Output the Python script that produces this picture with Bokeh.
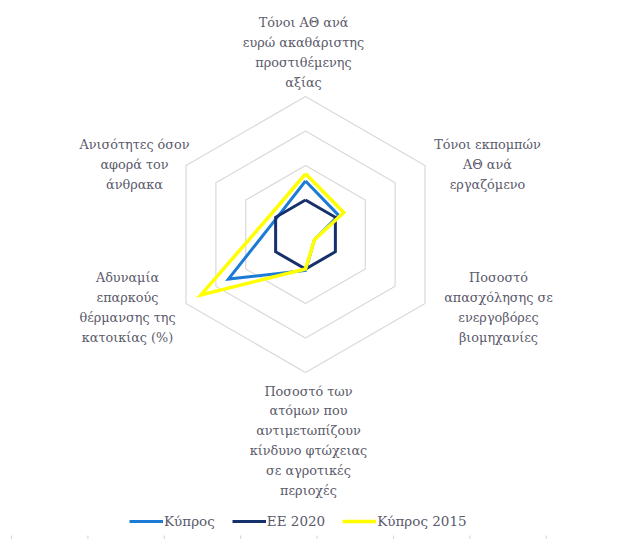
import numpy as np
from bokeh.plotting import figure
from bokeh.models import Range1d
from bokeh.core.properties import value
from bokeh.embed import file_html
from bokeh.resources import INLINE

# ---- data ----
categories = [
    "Τόνοι ΑΘ ανά\nευρώ ακαθάριστης\nπροστιθέμενης\nαξίας",
    "Τόνοι εκπομπών\nΑΘ ανά\nεργαζόμενο",
    "Ποσοστό\nαπασχόλησης σε\nενεργοβόρες\nβιομηχανίες",
    "Ποσοστό των\nατόμων που\nαντιμετωπίζουν\nκίνδυνο φτώχειας\nσε αγροτικές\nπεριοχές",
    "Αδυναμία\nεπαρκούς\nθέρμανσης της\nκατοικίας (%)",
    "Ανισότητες όσον\nαφορά τον\nάνθρακα",
]
cyprus = [1.55, 1.11, 0.30, 1.04, 2.58, 0.96]
eu2020 = [1.0, 1.0, 1.0, 1.0, 1.0, 1.0]
cyprus2015 = [1.76, 1.28, 0.30, 1.00, 3.50, 1.16]
series_names = ["Κύπρος", "ΕΕ 2020", "Κύπρος 2015"]
grid_levels = [1, 2, 3, 4]

# ---- layout ----
W, H = 605, 539
U = 34.5              # pixels per unit
cx, cy = 305, 234     # centre in canvas px (from top-left)
p = figure(width=W, height=H, output_backend="svg", toolbar_location=None,
           x_range=Range1d(-cx / U, (W - cx) / U),
           y_range=Range1d(-(H - cy) / U, cy / U),
           min_border=0)
p.axis.visible = False
p.grid.visible = False
p.outline_line_color = None
p.background_fill_color = "white"

n = len(categories)
ang = np.pi / 2 - np.arange(n) * 2 * np.pi / n
ca = np.append(np.cos(ang), np.cos(ang[0]))
sa = np.append(np.sin(ang), np.sin(ang[0]))

for g in grid_levels:
    p.line(g * ca, g * sa, line_color="#D9D9D9", line_width=1.2)

colors = ["#1C7CD5", "#15306A", "#FFFF00"]
widths = [3, 3, 3.5]
for vals, name, col, w in zip([cyprus, eu2020, cyprus2015], series_names, colors, widths):
    v = np.append(vals, vals[0])
    p.line(v * ca, v * sa, line_color=col, line_width=w, line_join="miter",
           legend_label=name)

FONT = "DejaVu Serif"

# category labels (centres in px relative to chart centre)
label_off_px = [(-2, 182), (182, 70), (193, -73), (3, -206), (-178, -73), (-171, 70)]
lx = [dx / U for dx, dy in label_off_px]
ly = [dy / U for dx, dy in label_off_px]
p.text(x=lx, y=ly, text=categories, text_align="center", text_baseline="middle",
       text_font=value(FONT), text_font_size="12.8px",
       text_line_height=1.32, text_color="#5A5A6A")

# bottom tick marks (category axis remnants)
nt = 8
tick_px = -294 + np.arange(nt) * 76.4
p.segment(x0=tick_px / U, y0=[-301 / U] * nt, x1=tick_px / U, y1=[-330 / U] * nt,
          line_color="#D9D9D9", line_width=1.2)

lg = p.legend[0]
lg.orientation = "horizontal"
lg.location = (129, 10)
lg.glyph_width = 34
lg.glyph_height = 16
lg.label_height = 16
lg.label_standoff = 1
lg.spacing = 17
lg.padding = 0
lg.margin = 0
lg.border_line_color = None
lg.background_fill_alpha = 0
lg.label_text_font = FONT
lg.label_text_font_size = "13.5px"
lg.label_text_color = "#5A5A6A"

open("out.html", "w").write(file_html(p, INLINE))
